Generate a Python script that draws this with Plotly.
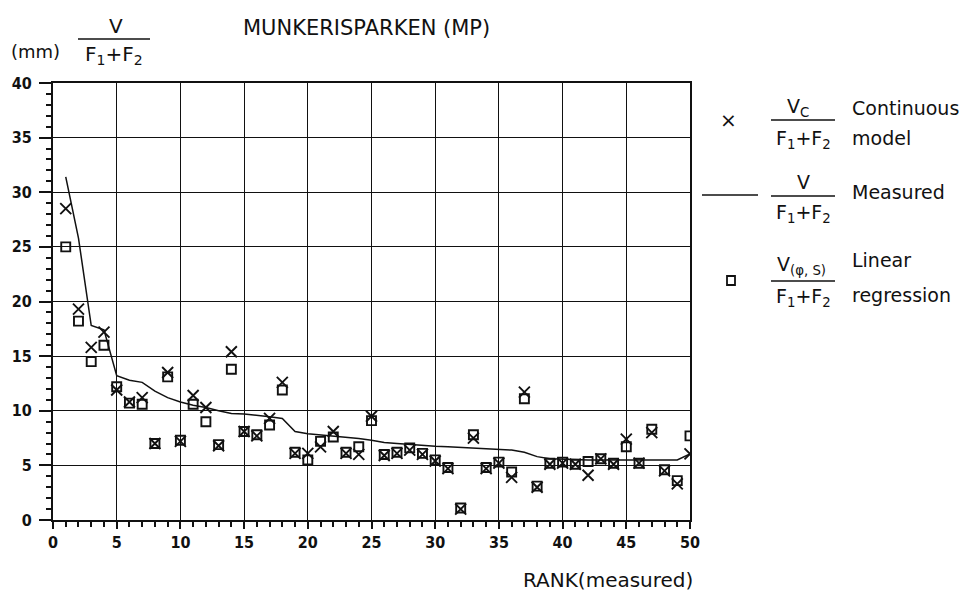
import plotly.graph_objects as go

# rank of the measured value (1 = largest)
RANK = list(range(1, 51))

# V/(F1+F2) measured, mm (sorted, drawn as line)
MEASURED = [
    31.4, 25.8, 17.8, 17.4, 13.2, 12.8, 12.6, 11.8, 11.2, 10.8,
    10.5, 10.3, 10.0, 9.75, 9.7, 9.6, 9.45, 9.3, 8.1, 7.9,
    7.8, 7.65, 7.55, 7.45, 7.3, 7.1, 7.0, 6.9, 6.8, 6.75,
    6.7, 6.65, 6.6, 6.55, 6.5, 6.4, 6.2, 5.8, 5.6, 5.55,
    5.5, 5.5, 5.5, 5.5, 5.45, 5.45, 5.45, 5.45, 5.5, 6.05,
]

# Vc/(F1+F2) continuous model
CONTINUOUS = [
    28.5, 19.3, 15.8, 17.2, 11.9, 10.8, 11.2, 7.0, 13.5, 7.2,
    11.4, 10.3, 6.8, 15.4, 8.1, 7.7, 9.3, 12.6, 6.1, 6.1,
    6.7, 8.1, 6.1, 6.0, 9.5, 5.9, 6.1, 6.4, 6.0, 5.4,
    4.7, 1.0, 7.5, 4.7, 5.2, 3.9, 11.7, 3.0, 5.1, 5.2,
    5.1, 4.1, 5.6, 5.1, 7.4, 5.2, 8.0, 4.5, 3.3, 6.05,
]

# V(phi,S)/(F1+F2) linear regression
REGRESSION = [
    25.0, 18.2, 14.5, 16.0, 12.2, 10.7, 10.6, 7.0, 13.1, 7.3,
    10.6, 9.0, 6.9, 13.8, 8.1, 7.8, 8.7, 11.9, 6.2, 5.5,
    7.2, 7.6, 6.2, 6.7, 9.1, 6.0, 6.2, 6.6, 6.1, 5.5,
    4.8, 1.1, 7.8, 4.8, 5.3, 4.4, 11.1, 3.1, 5.2, 5.3,
    5.1, 5.35, 5.6, 5.2, 6.7, 5.2, 8.3, 4.6, 3.6, 7.7,
]

FONT = "DejaVu Sans"
TICKFONT = "Liberation Sans Narrow, DejaVu Sans Condensed, Arial Narrow"
BLACK = "#111"

W, H = 970, 592
L, R, T, B = 45, 682, 75, 512


def px(x):
    return (x - L) / (R - L)


def py(y):
    return (B - y) / (B - T)


fig = go.Figure()
fig.add_trace(go.Scatter(
    x=RANK, y=MEASURED, mode="lines",
    line=dict(color=BLACK, width=1.5), showlegend=False,
))
fig.add_trace(go.Scatter(
    x=RANK, y=REGRESSION, mode="markers",
    marker=dict(symbol="square-open", size=9, color=BLACK,
                line=dict(color=BLACK, width=1.9)),
    showlegend=False,
))
fig.add_trace(go.Scatter(
    x=RANK, y=CONTINUOUS, mode="markers",
    marker=dict(symbol="x-thin-open", size=11, color=BLACK,
                line=dict(color=BLACK, width=1.9)),
    showlegend=False,
))

axis = dict(
    showline=True, linecolor=BLACK, linewidth=2, mirror=True,
    showgrid=True, gridcolor=BLACK, gridwidth=1.2, zeroline=False,
    ticks="outside", tickcolor=BLACK, tickwidth=1.5, automargin=False,
    tickfont=dict(family=TICKFONT, size=16, color=BLACK, weight="bold"),
)
fig.update_xaxes(
    **axis, range=[0, 50], dtick=5, ticklen=7,
    minor=dict(dtick=1, ticks="outside", ticklen=5, tickwidth=1.5,
               tickcolor=BLACK, showgrid=False),
)
fig.update_yaxes(
    **axis, range=[0, 40], dtick=5, ticklen=12, ticklabelstandoff=4,
    minor=dict(dtick=1, ticks="outside", ticklen=5, tickwidth=1.5,
               tickcolor=BLACK, showgrid=False),
)


def text(x, y, s, size=19, anchor="center"):
    fig.add_annotation(
        x=px(x), y=py(y), xref="paper", yref="paper", text=s,
        showarrow=False, xanchor=anchor, yanchor="middle",
        font=dict(family=FONT, size=size, color=BLACK),
    )


def hline(x0, x1, y, width=1.6):
    fig.add_shape(
        type="line", xref="paper", yref="paper",
        x0=px(x0), x1=px(x1), y0=py(y), y1=py(y),
        line=dict(color=BLACK, width=width),
    )


DENOM = "F<sub>1</sub>+F<sub>2</sub>"

# y-axis label
text(27, 43, "(mm)", size=18)
text(108, 18, "V", size=20)
hline(70, 142, 31)
text(106, 47, DENOM, size=20)

# title and x label
text(233, 20, "MUNKERISPARKEN (MP)", size=21, anchor="left")
text(600, 572, "RANK(measured)", size=20)

# legend: continuous model
text(720, 112, "×", size=20)
text(790, 99, "V<sub>C</sub>")
hline(763, 827, 112)
text(795, 131, DENOM)
text(842, 100, "Continuous", anchor="left")
text(842, 130, "model", anchor="left")

# legend: measured
hline(694, 750, 187, width=1.5)
text(795, 174, "V")
hline(763, 827, 188)
text(795, 205, DENOM)
text(842, 184, "Measured", anchor="left")

# legend: linear regression
fig.add_shape(
    type="rect", xref="paper", yref="paper",
    x0=px(719), x1=px(727), y0=py(268), y1=py(277),
    line=dict(color=BLACK, width=1.8),
)
text(793, 257, "V<sub>(φ, S)</sub>")
hline(763, 827, 273)
text(795, 289, DENOM)
text(842, 252, "Linear", anchor="left")
text(842, 287, "regression", anchor="left")

fig.update_layout(
    width=W, height=H,
    margin=dict(l=L, r=W - R, t=T, b=H - B),
    plot_bgcolor="white", paper_bgcolor="white",
    font=dict(family=FONT, color=BLACK),
)

fig.write_html("out.html")
